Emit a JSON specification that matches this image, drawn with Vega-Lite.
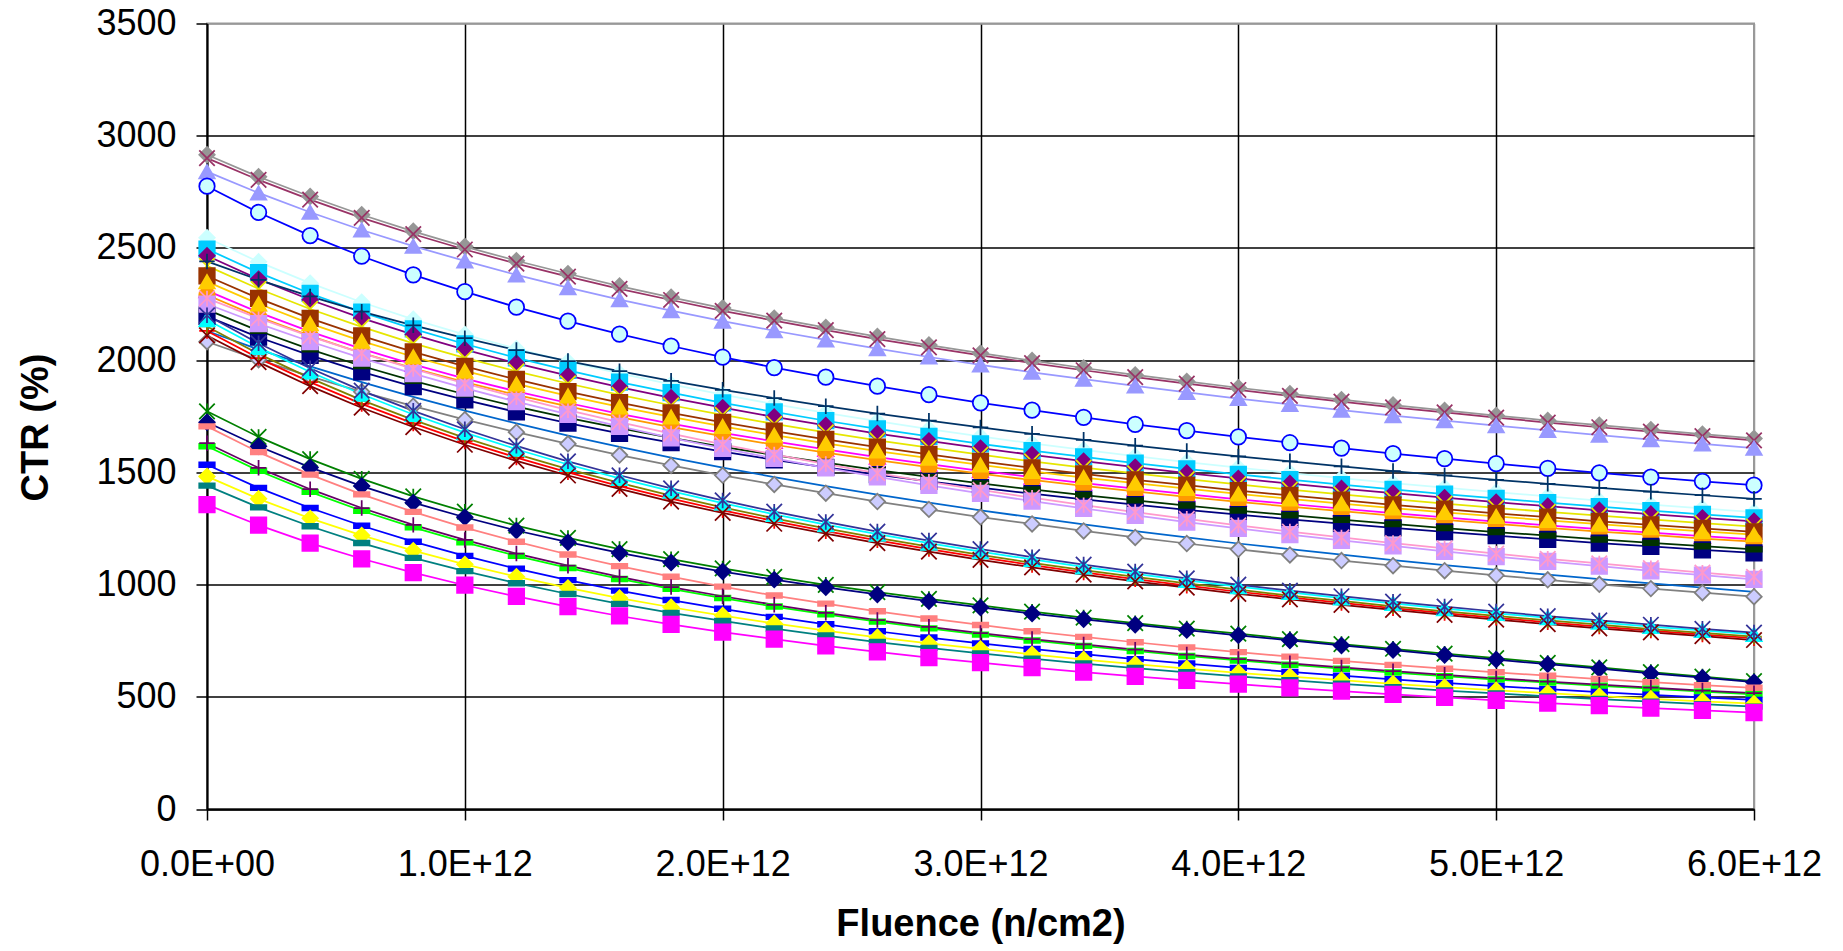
{
"$schema":"https://vega.github.io/schema/vega-lite/v6.json",
"width":1547,"height":785.5,
"autosize":{"type":"none"},
"padding":{"left":207,"top":23.5,"right":89,"bottom":142},
"background":"#ffffff",
"config":{"font":"Liberation Sans","view":{"stroke":"#999999","strokeWidth":2}},
"data":{"values":[
{"s":"S01","x":0,"y":2915},{"s":"S01","x":2e11,"y":2817},{"s":"S01","x":4e11,"y":2729},{"s":"S01","x":6e11,"y":2648},{"s":"S01","x":8e11,"y":2574},{"s":"S01","x":1e12,"y":2506},{"s":"S01","x":1.2e12,"y":2443},{"s":"S01","x":1.4e12,"y":2385},{"s":"S01","x":1.6e12,"y":2330},{"s":"S01","x":1.8e12,"y":2280},{"s":"S01","x":2e12,"y":2232},{"s":"S01","x":2.2e12,"y":2187},{"s":"S01","x":2.4e12,"y":2145},{"s":"S01","x":2.6e12,"y":2105},{"s":"S01","x":2.8e12,"y":2067},{"s":"S01","x":3e12,"y":2031},{"s":"S01","x":3.2e12,"y":1998},{"s":"S01","x":3.4e12,"y":1965},{"s":"S01","x":3.6e12,"y":1934},{"s":"S01","x":3.8e12,"y":1905},{"s":"S01","x":4e12,"y":1877},{"s":"S01","x":4.2e12,"y":1850},{"s":"S01","x":4.4e12,"y":1824},{"s":"S01","x":4.6e12,"y":1800},{"s":"S01","x":4.8e12,"y":1776},{"s":"S01","x":5e12,"y":1753},{"s":"S01","x":5.2e12,"y":1731},{"s":"S01","x":5.4e12,"y":1710},{"s":"S01","x":5.6e12,"y":1690},{"s":"S01","x":5.8e12,"y":1670},{"s":"S01","x":6e12,"y":1651},
{"s":"S02","x":0,"y":2900},{"s":"S02","x":2e11,"y":2803},{"s":"S02","x":4e11,"y":2715},{"s":"S02","x":6e11,"y":2634},{"s":"S02","x":8e11,"y":2561},{"s":"S02","x":1e12,"y":2493},{"s":"S02","x":1.2e12,"y":2430},{"s":"S02","x":1.4e12,"y":2372},{"s":"S02","x":1.6e12,"y":2318},{"s":"S02","x":1.8e12,"y":2268},{"s":"S02","x":2e12,"y":2220},{"s":"S02","x":2.2e12,"y":2176},{"s":"S02","x":2.4e12,"y":2134},{"s":"S02","x":2.6e12,"y":2094},{"s":"S02","x":2.8e12,"y":2057},{"s":"S02","x":3e12,"y":2021},{"s":"S02","x":3.2e12,"y":1987},{"s":"S02","x":3.4e12,"y":1955},{"s":"S02","x":3.6e12,"y":1924},{"s":"S02","x":3.8e12,"y":1895},{"s":"S02","x":4e12,"y":1867},{"s":"S02","x":4.2e12,"y":1841},{"s":"S02","x":4.4e12,"y":1815},{"s":"S02","x":4.6e12,"y":1790},{"s":"S02","x":4.8e12,"y":1767},{"s":"S02","x":5e12,"y":1744},{"s":"S02","x":5.2e12,"y":1722},{"s":"S02","x":5.4e12,"y":1701},{"s":"S02","x":5.6e12,"y":1681},{"s":"S02","x":5.8e12,"y":1661},{"s":"S02","x":6e12,"y":1642},
{"s":"S03","x":0,"y":2840},{"s":"S03","x":2e11,"y":2745},{"s":"S03","x":4e11,"y":2659},{"s":"S03","x":6e11,"y":2580},{"s":"S03","x":8e11,"y":2508},{"s":"S03","x":1e12,"y":2442},{"s":"S03","x":1.2e12,"y":2380},{"s":"S03","x":1.4e12,"y":2323},{"s":"S03","x":1.6e12,"y":2270},{"s":"S03","x":1.8e12,"y":2221},{"s":"S03","x":2e12,"y":2174},{"s":"S03","x":2.2e12,"y":2131},{"s":"S03","x":2.4e12,"y":2090},{"s":"S03","x":2.6e12,"y":2051},{"s":"S03","x":2.8e12,"y":2014},{"s":"S03","x":3e12,"y":1979},{"s":"S03","x":3.2e12,"y":1946},{"s":"S03","x":3.4e12,"y":1915},{"s":"S03","x":3.6e12,"y":1885},{"s":"S03","x":3.8e12,"y":1856},{"s":"S03","x":4e12,"y":1829},{"s":"S03","x":4.2e12,"y":1803},{"s":"S03","x":4.4e12,"y":1777},{"s":"S03","x":4.6e12,"y":1753},{"s":"S03","x":4.8e12,"y":1730},{"s":"S03","x":5e12,"y":1708},{"s":"S03","x":5.2e12,"y":1687},{"s":"S03","x":5.4e12,"y":1666},{"s":"S03","x":5.6e12,"y":1646},{"s":"S03","x":5.8e12,"y":1627},{"s":"S03","x":6e12,"y":1608},
{"s":"S04","x":0,"y":2775},{"s":"S04","x":2e11,"y":2658},{"s":"S04","x":4e11,"y":2555},{"s":"S04","x":6e11,"y":2463},{"s":"S04","x":8e11,"y":2380},{"s":"S04","x":1e12,"y":2305},{"s":"S04","x":1.2e12,"y":2236},{"s":"S04","x":1.4e12,"y":2174},{"s":"S04","x":1.6e12,"y":2116},{"s":"S04","x":1.8e12,"y":2063},{"s":"S04","x":2e12,"y":2013},{"s":"S04","x":2.2e12,"y":1967},{"s":"S04","x":2.4e12,"y":1924},{"s":"S04","x":2.6e12,"y":1884},{"s":"S04","x":2.8e12,"y":1846},{"s":"S04","x":3e12,"y":1810},{"s":"S04","x":3.2e12,"y":1777},{"s":"S04","x":3.4e12,"y":1745},{"s":"S04","x":3.6e12,"y":1714},{"s":"S04","x":3.8e12,"y":1686},{"s":"S04","x":4e12,"y":1658},{"s":"S04","x":4.2e12,"y":1632},{"s":"S04","x":4.4e12,"y":1608},{"s":"S04","x":4.6e12,"y":1584},{"s":"S04","x":4.8e12,"y":1561},{"s":"S04","x":5e12,"y":1539},{"s":"S04","x":5.2e12,"y":1518},{"s":"S04","x":5.4e12,"y":1498},{"s":"S04","x":5.6e12,"y":1479},{"s":"S04","x":5.8e12,"y":1460},{"s":"S04","x":6e12,"y":1443},
{"s":"S05","x":0,"y":2545},{"s":"S05","x":2e11,"y":2438},{"s":"S05","x":4e11,"y":2343},{"s":"S05","x":6e11,"y":2258},{"s":"S05","x":8e11,"y":2182},{"s":"S05","x":1e12,"y":2114},{"s":"S05","x":1.2e12,"y":2051},{"s":"S05","x":1.4e12,"y":1993},{"s":"S05","x":1.6e12,"y":1941},{"s":"S05","x":1.8e12,"y":1892},{"s":"S05","x":2e12,"y":1846},{"s":"S05","x":2.2e12,"y":1804},{"s":"S05","x":2.4e12,"y":1765},{"s":"S05","x":2.6e12,"y":1728},{"s":"S05","x":2.8e12,"y":1693},{"s":"S05","x":3e12,"y":1660},{"s":"S05","x":3.2e12,"y":1629},{"s":"S05","x":3.4e12,"y":1600},{"s":"S05","x":3.6e12,"y":1572},{"s":"S05","x":3.8e12,"y":1546},{"s":"S05","x":4e12,"y":1521},{"s":"S05","x":4.2e12,"y":1497},{"s":"S05","x":4.4e12,"y":1474},{"s":"S05","x":4.6e12,"y":1452},{"s":"S05","x":4.8e12,"y":1432},{"s":"S05","x":5e12,"y":1412},{"s":"S05","x":5.2e12,"y":1393},{"s":"S05","x":5.4e12,"y":1374},{"s":"S05","x":5.6e12,"y":1356},{"s":"S05","x":5.8e12,"y":1339},{"s":"S05","x":6e12,"y":1323},
{"s":"S06","x":0,"y":2495},{"s":"S06","x":2e11,"y":2390},{"s":"S06","x":4e11,"y":2297},{"s":"S06","x":6e11,"y":2214},{"s":"S06","x":8e11,"y":2139},{"s":"S06","x":1e12,"y":2072},{"s":"S06","x":1.2e12,"y":2010},{"s":"S06","x":1.4e12,"y":1954},{"s":"S06","x":1.6e12,"y":1902},{"s":"S06","x":1.8e12,"y":1855},{"s":"S06","x":2e12,"y":1810},{"s":"S06","x":2.2e12,"y":1769},{"s":"S06","x":2.4e12,"y":1730},{"s":"S06","x":2.6e12,"y":1694},{"s":"S06","x":2.8e12,"y":1660},{"s":"S06","x":3e12,"y":1627},{"s":"S06","x":3.2e12,"y":1597},{"s":"S06","x":3.4e12,"y":1569},{"s":"S06","x":3.6e12,"y":1541},{"s":"S06","x":3.8e12,"y":1516},{"s":"S06","x":4e12,"y":1491},{"s":"S06","x":4.2e12,"y":1468},{"s":"S06","x":4.4e12,"y":1445},{"s":"S06","x":4.6e12,"y":1424},{"s":"S06","x":4.8e12,"y":1403},{"s":"S06","x":5e12,"y":1384},{"s":"S06","x":5.2e12,"y":1365},{"s":"S06","x":5.4e12,"y":1347},{"s":"S06","x":5.6e12,"y":1330},{"s":"S06","x":5.8e12,"y":1313},{"s":"S06","x":6e12,"y":1297},
{"s":"S07","x":0,"y":2465},{"s":"S07","x":2e11,"y":2361},{"s":"S07","x":4e11,"y":2269},{"s":"S07","x":6e11,"y":2187},{"s":"S07","x":8e11,"y":2114},{"s":"S07","x":1e12,"y":2047},{"s":"S07","x":1.2e12,"y":1986},{"s":"S07","x":1.4e12,"y":1931},{"s":"S07","x":1.6e12,"y":1880},{"s":"S07","x":1.8e12,"y":1832},{"s":"S07","x":2e12,"y":1788},{"s":"S07","x":2.2e12,"y":1747},{"s":"S07","x":2.4e12,"y":1709},{"s":"S07","x":2.6e12,"y":1673},{"s":"S07","x":2.8e12,"y":1640},{"s":"S07","x":3e12,"y":1608},{"s":"S07","x":3.2e12,"y":1578},{"s":"S07","x":3.4e12,"y":1550},{"s":"S07","x":3.6e12,"y":1523},{"s":"S07","x":3.8e12,"y":1497},{"s":"S07","x":4e12,"y":1473},{"s":"S07","x":4.2e12,"y":1450},{"s":"S07","x":4.4e12,"y":1428},{"s":"S07","x":4.6e12,"y":1407},{"s":"S07","x":4.8e12,"y":1387},{"s":"S07","x":5e12,"y":1367},{"s":"S07","x":5.2e12,"y":1349},{"s":"S07","x":5.4e12,"y":1331},{"s":"S07","x":5.6e12,"y":1314},{"s":"S07","x":5.8e12,"y":1297},{"s":"S07","x":6e12,"y":1282},
{"s":"S08","x":0,"y":2420},{"s":"S08","x":2e11,"y":2318},{"s":"S08","x":4e11,"y":2228},{"s":"S08","x":6e11,"y":2148},{"s":"S08","x":8e11,"y":2075},{"s":"S08","x":1e12,"y":2010},{"s":"S08","x":1.2e12,"y":1950},{"s":"S08","x":1.4e12,"y":1896},{"s":"S08","x":1.6e12,"y":1845},{"s":"S08","x":1.8e12,"y":1799},{"s":"S08","x":2e12,"y":1756},{"s":"S08","x":2.2e12,"y":1716},{"s":"S08","x":2.4e12,"y":1678},{"s":"S08","x":2.6e12,"y":1643},{"s":"S08","x":2.8e12,"y":1610},{"s":"S08","x":3e12,"y":1579},{"s":"S08","x":3.2e12,"y":1549},{"s":"S08","x":3.4e12,"y":1521},{"s":"S08","x":3.6e12,"y":1495},{"s":"S08","x":3.8e12,"y":1470},{"s":"S08","x":4e12,"y":1446},{"s":"S08","x":4.2e12,"y":1423},{"s":"S08","x":4.4e12,"y":1402},{"s":"S08","x":4.6e12,"y":1381},{"s":"S08","x":4.8e12,"y":1361},{"s":"S08","x":5e12,"y":1342},{"s":"S08","x":5.2e12,"y":1324},{"s":"S08","x":5.4e12,"y":1307},{"s":"S08","x":5.6e12,"y":1290},{"s":"S08","x":5.8e12,"y":1274},{"s":"S08","x":6e12,"y":1258},
{"s":"S09","x":0,"y":2375},{"s":"S09","x":2e11,"y":2275},{"s":"S09","x":4e11,"y":2186},{"s":"S09","x":6e11,"y":2108},{"s":"S09","x":8e11,"y":2037},{"s":"S09","x":1e12,"y":1972},{"s":"S09","x":1.2e12,"y":1914},{"s":"S09","x":1.4e12,"y":1860},{"s":"S09","x":1.6e12,"y":1811},{"s":"S09","x":1.8e12,"y":1765},{"s":"S09","x":2e12,"y":1723},{"s":"S09","x":2.2e12,"y":1684},{"s":"S09","x":2.4e12,"y":1647},{"s":"S09","x":2.6e12,"y":1612},{"s":"S09","x":2.8e12,"y":1580},{"s":"S09","x":3e12,"y":1549},{"s":"S09","x":3.2e12,"y":1520},{"s":"S09","x":3.4e12,"y":1493},{"s":"S09","x":3.6e12,"y":1467},{"s":"S09","x":3.8e12,"y":1443},{"s":"S09","x":4e12,"y":1419},{"s":"S09","x":4.2e12,"y":1397},{"s":"S09","x":4.4e12,"y":1376},{"s":"S09","x":4.6e12,"y":1355},{"s":"S09","x":4.8e12,"y":1336},{"s":"S09","x":5e12,"y":1317},{"s":"S09","x":5.2e12,"y":1300},{"s":"S09","x":5.4e12,"y":1282},{"s":"S09","x":5.6e12,"y":1266},{"s":"S09","x":5.8e12,"y":1250},{"s":"S09","x":6e12,"y":1235},
{"s":"S10","x":0,"y":2440},{"s":"S10","x":2e11,"y":2358},{"s":"S10","x":4e11,"y":2284},{"s":"S10","x":6e11,"y":2216},{"s":"S10","x":8e11,"y":2155},{"s":"S10","x":1e12,"y":2098},{"s":"S10","x":1.2e12,"y":2045},{"s":"S10","x":1.4e12,"y":1996},{"s":"S10","x":1.6e12,"y":1951},{"s":"S10","x":1.8e12,"y":1908},{"s":"S10","x":2e12,"y":1868},{"s":"S10","x":2.2e12,"y":1831},{"s":"S10","x":2.4e12,"y":1795},{"s":"S10","x":2.6e12,"y":1762},{"s":"S10","x":2.8e12,"y":1730},{"s":"S10","x":3e12,"y":1700},{"s":"S10","x":3.2e12,"y":1672},{"s":"S10","x":3.4e12,"y":1645},{"s":"S10","x":3.6e12,"y":1619},{"s":"S10","x":3.8e12,"y":1595},{"s":"S10","x":4e12,"y":1571},{"s":"S10","x":4.2e12,"y":1549},{"s":"S10","x":4.4e12,"y":1527},{"s":"S10","x":4.6e12,"y":1506},{"s":"S10","x":4.8e12,"y":1486},{"s":"S10","x":5e12,"y":1467},{"s":"S10","x":5.2e12,"y":1449},{"s":"S10","x":5.4e12,"y":1431},{"s":"S10","x":5.6e12,"y":1414},{"s":"S10","x":5.8e12,"y":1398},{"s":"S10","x":6e12,"y":1382},
{"s":"S11","x":0,"y":2310},{"s":"S11","x":2e11,"y":2213},{"s":"S11","x":4e11,"y":2127},{"s":"S11","x":6e11,"y":2050},{"s":"S11","x":8e11,"y":1981},{"s":"S11","x":1e12,"y":1918},{"s":"S11","x":1.2e12,"y":1861},{"s":"S11","x":1.4e12,"y":1809},{"s":"S11","x":1.6e12,"y":1761},{"s":"S11","x":1.8e12,"y":1717},{"s":"S11","x":2e12,"y":1676},{"s":"S11","x":2.2e12,"y":1638},{"s":"S11","x":2.4e12,"y":1602},{"s":"S11","x":2.6e12,"y":1568},{"s":"S11","x":2.8e12,"y":1537},{"s":"S11","x":3e12,"y":1507},{"s":"S11","x":3.2e12,"y":1479},{"s":"S11","x":3.4e12,"y":1452},{"s":"S11","x":3.6e12,"y":1427},{"s":"S11","x":3.8e12,"y":1403},{"s":"S11","x":4e12,"y":1380},{"s":"S11","x":4.2e12,"y":1359},{"s":"S11","x":4.4e12,"y":1338},{"s":"S11","x":4.6e12,"y":1318},{"s":"S11","x":4.8e12,"y":1299},{"s":"S11","x":5e12,"y":1281},{"s":"S11","x":5.2e12,"y":1264},{"s":"S11","x":5.4e12,"y":1247},{"s":"S11","x":5.6e12,"y":1231},{"s":"S11","x":5.8e12,"y":1216},{"s":"S11","x":6e12,"y":1201},
{"s":"S12","x":0,"y":2290},{"s":"S12","x":2e11,"y":2193},{"s":"S12","x":4e11,"y":2108},{"s":"S12","x":6e11,"y":2032},{"s":"S12","x":8e11,"y":1964},{"s":"S12","x":1e12,"y":1902},{"s":"S12","x":1.2e12,"y":1845},{"s":"S12","x":1.4e12,"y":1794},{"s":"S12","x":1.6e12,"y":1746},{"s":"S12","x":1.8e12,"y":1702},{"s":"S12","x":2e12,"y":1661},{"s":"S12","x":2.2e12,"y":1623},{"s":"S12","x":2.4e12,"y":1588},{"s":"S12","x":2.6e12,"y":1554},{"s":"S12","x":2.8e12,"y":1523},{"s":"S12","x":3e12,"y":1494},{"s":"S12","x":3.2e12,"y":1466},{"s":"S12","x":3.4e12,"y":1440},{"s":"S12","x":3.6e12,"y":1415},{"s":"S12","x":3.8e12,"y":1391},{"s":"S12","x":4e12,"y":1369},{"s":"S12","x":4.2e12,"y":1347},{"s":"S12","x":4.4e12,"y":1327},{"s":"S12","x":4.6e12,"y":1307},{"s":"S12","x":4.8e12,"y":1288},{"s":"S12","x":5e12,"y":1270},{"s":"S12","x":5.2e12,"y":1253},{"s":"S12","x":5.4e12,"y":1236},{"s":"S12","x":5.6e12,"y":1221},{"s":"S12","x":5.8e12,"y":1205},{"s":"S12","x":6e12,"y":1191},
{"s":"S13","x":0,"y":2195},{"s":"S13","x":2e11,"y":2102},{"s":"S13","x":4e11,"y":2021},{"s":"S13","x":6e11,"y":1948},{"s":"S13","x":8e11,"y":1882},{"s":"S13","x":1e12,"y":1823},{"s":"S13","x":1.2e12,"y":1769},{"s":"S13","x":1.4e12,"y":1719},{"s":"S13","x":1.6e12,"y":1674},{"s":"S13","x":1.8e12,"y":1632},{"s":"S13","x":2e12,"y":1592},{"s":"S13","x":2.2e12,"y":1556},{"s":"S13","x":2.4e12,"y":1522},{"s":"S13","x":2.6e12,"y":1490},{"s":"S13","x":2.8e12,"y":1460},{"s":"S13","x":3e12,"y":1432},{"s":"S13","x":3.2e12,"y":1405},{"s":"S13","x":3.4e12,"y":1380},{"s":"S13","x":3.6e12,"y":1356},{"s":"S13","x":3.8e12,"y":1333},{"s":"S13","x":4e12,"y":1312},{"s":"S13","x":4.2e12,"y":1291},{"s":"S13","x":4.4e12,"y":1272},{"s":"S13","x":4.6e12,"y":1253},{"s":"S13","x":4.8e12,"y":1235},{"s":"S13","x":5e12,"y":1218},{"s":"S13","x":5.2e12,"y":1201},{"s":"S13","x":5.4e12,"y":1185},{"s":"S13","x":5.6e12,"y":1170},{"s":"S13","x":5.8e12,"y":1155},{"s":"S13","x":6e12,"y":1141},
{"s":"S14","x":0,"y":2225},{"s":"S14","x":2e11,"y":2131},{"s":"S14","x":4e11,"y":2048},{"s":"S14","x":6e11,"y":1974},{"s":"S14","x":8e11,"y":1908},{"s":"S14","x":1e12,"y":1848},{"s":"S14","x":1.2e12,"y":1793},{"s":"S14","x":1.4e12,"y":1743},{"s":"S14","x":1.6e12,"y":1697},{"s":"S14","x":1.8e12,"y":1654},{"s":"S14","x":2e12,"y":1614},{"s":"S14","x":2.2e12,"y":1577},{"s":"S14","x":2.4e12,"y":1543},{"s":"S14","x":2.6e12,"y":1510},{"s":"S14","x":2.8e12,"y":1480},{"s":"S14","x":3e12,"y":1451},{"s":"S14","x":3.2e12,"y":1424},{"s":"S14","x":3.4e12,"y":1399},{"s":"S14","x":3.6e12,"y":1375},{"s":"S14","x":3.8e12,"y":1352},{"s":"S14","x":4e12,"y":1330},{"s":"S14","x":4.2e12,"y":1309},{"s":"S14","x":4.4e12,"y":1289},{"s":"S14","x":4.6e12,"y":1270},{"s":"S14","x":4.8e12,"y":1252},{"s":"S14","x":5e12,"y":1234},{"s":"S14","x":5.2e12,"y":1218},{"s":"S14","x":5.4e12,"y":1201},{"s":"S14","x":5.6e12,"y":1186},{"s":"S14","x":5.8e12,"y":1171},{"s":"S14","x":6e12,"y":1157},
{"s":"S15","x":0,"y":2250},{"s":"S15","x":2e11,"y":2163},{"s":"S15","x":4e11,"y":2083},{"s":"S15","x":6e11,"y":2009},{"s":"S15","x":8e11,"y":1940},{"s":"S15","x":1e12,"y":1875},{"s":"S15","x":1.2e12,"y":1815},{"s":"S15","x":1.4e12,"y":1758},{"s":"S15","x":1.6e12,"y":1705},{"s":"S15","x":1.8e12,"y":1654},{"s":"S15","x":2e12,"y":1607},{"s":"S15","x":2.2e12,"y":1562},{"s":"S15","x":2.4e12,"y":1520},{"s":"S15","x":2.6e12,"y":1480},{"s":"S15","x":2.8e12,"y":1442},{"s":"S15","x":3e12,"y":1406},{"s":"S15","x":3.2e12,"y":1372},{"s":"S15","x":3.4e12,"y":1339},{"s":"S15","x":3.6e12,"y":1308},{"s":"S15","x":3.8e12,"y":1278},{"s":"S15","x":4e12,"y":1250},{"s":"S15","x":4.2e12,"y":1223},{"s":"S15","x":4.4e12,"y":1197},{"s":"S15","x":4.6e12,"y":1172},{"s":"S15","x":4.8e12,"y":1148},{"s":"S15","x":5e12,"y":1125},{"s":"S15","x":5.2e12,"y":1103},{"s":"S15","x":5.4e12,"y":1082},{"s":"S15","x":5.6e12,"y":1061},{"s":"S15","x":5.8e12,"y":1042},{"s":"S15","x":6e12,"y":1023},
{"s":"S16","x":0,"y":2275},{"s":"S16","x":2e11,"y":2187},{"s":"S16","x":4e11,"y":2106},{"s":"S16","x":6e11,"y":2031},{"s":"S16","x":8e11,"y":1961},{"s":"S16","x":1e12,"y":1896},{"s":"S16","x":1.2e12,"y":1835},{"s":"S16","x":1.4e12,"y":1777},{"s":"S16","x":1.6e12,"y":1724},{"s":"S16","x":1.8e12,"y":1673},{"s":"S16","x":2e12,"y":1625},{"s":"S16","x":2.2e12,"y":1580},{"s":"S16","x":2.4e12,"y":1537},{"s":"S16","x":2.6e12,"y":1497},{"s":"S16","x":2.8e12,"y":1458},{"s":"S16","x":3e12,"y":1422},{"s":"S16","x":3.2e12,"y":1387},{"s":"S16","x":3.4e12,"y":1354},{"s":"S16","x":3.6e12,"y":1323},{"s":"S16","x":3.8e12,"y":1293},{"s":"S16","x":4e12,"y":1264},{"s":"S16","x":4.2e12,"y":1236},{"s":"S16","x":4.4e12,"y":1210},{"s":"S16","x":4.6e12,"y":1185},{"s":"S16","x":4.8e12,"y":1161},{"s":"S16","x":5e12,"y":1138},{"s":"S16","x":5.2e12,"y":1115},{"s":"S16","x":5.4e12,"y":1094},{"s":"S16","x":5.6e12,"y":1073},{"s":"S16","x":5.8e12,"y":1053},{"s":"S16","x":6e12,"y":1034},
{"s":"S17","x":0,"y":2350},{"s":"S17","x":2e11,"y":2251},{"s":"S17","x":4e11,"y":2163},{"s":"S17","x":6e11,"y":2085},{"s":"S17","x":8e11,"y":2015},{"s":"S17","x":1e12,"y":1952},{"s":"S17","x":1.2e12,"y":1894},{"s":"S17","x":1.4e12,"y":1841},{"s":"S17","x":1.6e12,"y":1792},{"s":"S17","x":1.8e12,"y":1747},{"s":"S17","x":2e12,"y":1705},{"s":"S17","x":2.2e12,"y":1666},{"s":"S17","x":2.4e12,"y":1629},{"s":"S17","x":2.6e12,"y":1595},{"s":"S17","x":2.8e12,"y":1563},{"s":"S17","x":3e12,"y":1533},{"s":"S17","x":3.2e12,"y":1504},{"s":"S17","x":3.4e12,"y":1477},{"s":"S17","x":3.6e12,"y":1452},{"s":"S17","x":3.8e12,"y":1428},{"s":"S17","x":4e12,"y":1404},{"s":"S17","x":4.2e12,"y":1382},{"s":"S17","x":4.4e12,"y":1361},{"s":"S17","x":4.6e12,"y":1341},{"s":"S17","x":4.8e12,"y":1322},{"s":"S17","x":5e12,"y":1304},{"s":"S17","x":5.2e12,"y":1286},{"s":"S17","x":5.4e12,"y":1269},{"s":"S17","x":5.6e12,"y":1253},{"s":"S17","x":5.8e12,"y":1237},{"s":"S17","x":6e12,"y":1222},
{"s":"S20","x":0,"y":2130},{"s":"S20","x":2e11,"y":2048},{"s":"S20","x":4e11,"y":1972},{"s":"S20","x":6e11,"y":1902},{"s":"S20","x":8e11,"y":1836},{"s":"S20","x":1e12,"y":1775},{"s":"S20","x":1.2e12,"y":1718},{"s":"S20","x":1.4e12,"y":1664},{"s":"S20","x":1.6e12,"y":1614},{"s":"S20","x":1.8e12,"y":1566},{"s":"S20","x":2e12,"y":1521},{"s":"S20","x":2.2e12,"y":1479},{"s":"S20","x":2.4e12,"y":1439},{"s":"S20","x":2.6e12,"y":1401},{"s":"S20","x":2.8e12,"y":1365},{"s":"S20","x":3e12,"y":1331},{"s":"S20","x":3.2e12,"y":1299},{"s":"S20","x":3.4e12,"y":1268},{"s":"S20","x":3.6e12,"y":1238},{"s":"S20","x":3.8e12,"y":1210},{"s":"S20","x":4e12,"y":1183},{"s":"S20","x":4.2e12,"y":1158},{"s":"S20","x":4.4e12,"y":1133},{"s":"S20","x":4.6e12,"y":1109},{"s":"S20","x":4.8e12,"y":1087},{"s":"S20","x":5e12,"y":1065},{"s":"S20","x":5.2e12,"y":1044},{"s":"S20","x":5.4e12,"y":1024},{"s":"S20","x":5.6e12,"y":1005},{"s":"S20","x":5.8e12,"y":986},{"s":"S20","x":6e12,"y":968},
{"s":"S21","x":0,"y":2082},{"s":"S21","x":2e11,"y":2002},{"s":"S21","x":4e11,"y":1928},{"s":"S21","x":6e11,"y":1859},{"s":"S21","x":8e11,"y":1795},{"s":"S21","x":1e12,"y":1735},{"s":"S21","x":1.2e12,"y":1679},{"s":"S21","x":1.4e12,"y":1627},{"s":"S21","x":1.6e12,"y":1577},{"s":"S21","x":1.8e12,"y":1531},{"s":"S21","x":2e12,"y":1487},{"s":"S21","x":2.2e12,"y":1446},{"s":"S21","x":2.4e12,"y":1407},{"s":"S21","x":2.6e12,"y":1370},{"s":"S21","x":2.8e12,"y":1335},{"s":"S21","x":3e12,"y":1301},{"s":"S21","x":3.2e12,"y":1270},{"s":"S21","x":3.4e12,"y":1239},{"s":"S21","x":3.6e12,"y":1210},{"s":"S21","x":3.8e12,"y":1183},{"s":"S21","x":4e12,"y":1157},{"s":"S21","x":4.2e12,"y":1132},{"s":"S21","x":4.4e12,"y":1107},{"s":"S21","x":4.6e12,"y":1084},{"s":"S21","x":4.8e12,"y":1062},{"s":"S21","x":5e12,"y":1041},{"s":"S21","x":5.2e12,"y":1021},{"s":"S21","x":5.4e12,"y":1001},{"s":"S21","x":5.6e12,"y":982},{"s":"S21","x":5.8e12,"y":964},{"s":"S21","x":6e12,"y":946},
{"s":"S22","x":0,"y":2130},{"s":"S22","x":2e11,"y":2009},{"s":"S22","x":4e11,"y":1902},{"s":"S22","x":6e11,"y":1805},{"s":"S22","x":8e11,"y":1718},{"s":"S22","x":1e12,"y":1638},{"s":"S22","x":1.2e12,"y":1566},{"s":"S22","x":1.4e12,"y":1500},{"s":"S22","x":1.6e12,"y":1439},{"s":"S22","x":1.8e12,"y":1383},{"s":"S22","x":2e12,"y":1331},{"s":"S22","x":2.2e12,"y":1283},{"s":"S22","x":2.4e12,"y":1238},{"s":"S22","x":2.6e12,"y":1197},{"s":"S22","x":2.8e12,"y":1158},{"s":"S22","x":3e12,"y":1121},{"s":"S22","x":3.2e12,"y":1087},{"s":"S22","x":3.4e12,"y":1054},{"s":"S22","x":3.6e12,"y":1024},{"s":"S22","x":3.8e12,"y":995},{"s":"S22","x":4e12,"y":968},{"s":"S22","x":4.2e12,"y":943},{"s":"S22","x":4.4e12,"y":918},{"s":"S22","x":4.6e12,"y":895},{"s":"S22","x":4.8e12,"y":873},{"s":"S22","x":5e12,"y":852},{"s":"S22","x":5.2e12,"y":832},{"s":"S22","x":5.4e12,"y":813},{"s":"S22","x":5.6e12,"y":795},{"s":"S22","x":5.8e12,"y":777},{"s":"S22","x":6e12,"y":761},
{"s":"S23","x":0,"y":2150},{"s":"S23","x":2e11,"y":2028},{"s":"S23","x":4e11,"y":1920},{"s":"S23","x":6e11,"y":1822},{"s":"S23","x":8e11,"y":1734},{"s":"S23","x":1e12,"y":1654},{"s":"S23","x":1.2e12,"y":1581},{"s":"S23","x":1.4e12,"y":1514},{"s":"S23","x":1.6e12,"y":1453},{"s":"S23","x":1.8e12,"y":1396},{"s":"S23","x":2e12,"y":1344},{"s":"S23","x":2.2e12,"y":1295},{"s":"S23","x":2.4e12,"y":1250},{"s":"S23","x":2.6e12,"y":1208},{"s":"S23","x":2.8e12,"y":1169},{"s":"S23","x":3e12,"y":1132},{"s":"S23","x":3.2e12,"y":1097},{"s":"S23","x":3.4e12,"y":1064},{"s":"S23","x":3.6e12,"y":1034},{"s":"S23","x":3.8e12,"y":1005},{"s":"S23","x":4e12,"y":977},{"s":"S23","x":4.2e12,"y":951},{"s":"S23","x":4.4e12,"y":927},{"s":"S23","x":4.6e12,"y":903},{"s":"S23","x":4.8e12,"y":881},{"s":"S23","x":5e12,"y":860},{"s":"S23","x":5.2e12,"y":840},{"s":"S23","x":5.4e12,"y":821},{"s":"S23","x":5.6e12,"y":802},{"s":"S23","x":5.8e12,"y":785},{"s":"S23","x":6e12,"y":768},
{"s":"S24","x":0,"y":2180},{"s":"S24","x":2e11,"y":2057},{"s":"S24","x":4e11,"y":1947},{"s":"S24","x":6e11,"y":1848},{"s":"S24","x":8e11,"y":1758},{"s":"S24","x":1e12,"y":1677},{"s":"S24","x":1.2e12,"y":1603},{"s":"S24","x":1.4e12,"y":1535},{"s":"S24","x":1.6e12,"y":1473},{"s":"S24","x":1.8e12,"y":1416},{"s":"S24","x":2e12,"y":1363},{"s":"S24","x":2.2e12,"y":1313},{"s":"S24","x":2.4e12,"y":1267},{"s":"S24","x":2.6e12,"y":1225},{"s":"S24","x":2.8e12,"y":1185},{"s":"S24","x":3e12,"y":1147},{"s":"S24","x":3.2e12,"y":1112},{"s":"S24","x":3.4e12,"y":1079},{"s":"S24","x":3.6e12,"y":1048},{"s":"S24","x":3.8e12,"y":1019},{"s":"S24","x":4e12,"y":991},{"s":"S24","x":4.2e12,"y":965},{"s":"S24","x":4.4e12,"y":940},{"s":"S24","x":4.6e12,"y":916},{"s":"S24","x":4.8e12,"y":893},{"s":"S24","x":5e12,"y":872},{"s":"S24","x":5.2e12,"y":852},{"s":"S24","x":5.4e12,"y":832},{"s":"S24","x":5.6e12,"y":813},{"s":"S24","x":5.8e12,"y":796},{"s":"S24","x":6e12,"y":778},
{"s":"S25","x":0,"y":2110},{"s":"S25","x":2e11,"y":1991},{"s":"S25","x":4e11,"y":1884},{"s":"S25","x":6e11,"y":1788},{"s":"S25","x":8e11,"y":1702},{"s":"S25","x":1e12,"y":1623},{"s":"S25","x":1.2e12,"y":1551},{"s":"S25","x":1.4e12,"y":1486},{"s":"S25","x":1.6e12,"y":1426},{"s":"S25","x":1.8e12,"y":1370},{"s":"S25","x":2e12,"y":1319},{"s":"S25","x":2.2e12,"y":1271},{"s":"S25","x":2.4e12,"y":1227},{"s":"S25","x":2.6e12,"y":1185},{"s":"S25","x":2.8e12,"y":1147},{"s":"S25","x":3e12,"y":1110},{"s":"S25","x":3.2e12,"y":1077},{"s":"S25","x":3.4e12,"y":1044},{"s":"S25","x":3.6e12,"y":1014},{"s":"S25","x":3.8e12,"y":986},{"s":"S25","x":4e12,"y":959},{"s":"S25","x":4.2e12,"y":934},{"s":"S25","x":4.4e12,"y":909},{"s":"S25","x":4.6e12,"y":887},{"s":"S25","x":4.8e12,"y":865},{"s":"S25","x":5e12,"y":844},{"s":"S25","x":5.2e12,"y":824},{"s":"S25","x":5.4e12,"y":805},{"s":"S25","x":5.6e12,"y":787},{"s":"S25","x":5.8e12,"y":770},{"s":"S25","x":6e12,"y":753},
{"s":"S26","x":0,"y":2200},{"s":"S26","x":2e11,"y":2075},{"s":"S26","x":4e11,"y":1964},{"s":"S26","x":6e11,"y":1864},{"s":"S26","x":8e11,"y":1774},{"s":"S26","x":1e12,"y":1692},{"s":"S26","x":1.2e12,"y":1618},{"s":"S26","x":1.4e12,"y":1549},{"s":"S26","x":1.6e12,"y":1487},{"s":"S26","x":1.8e12,"y":1429},{"s":"S26","x":2e12,"y":1375},{"s":"S26","x":2.2e12,"y":1325},{"s":"S26","x":2.4e12,"y":1279},{"s":"S26","x":2.6e12,"y":1236},{"s":"S26","x":2.8e12,"y":1196},{"s":"S26","x":3e12,"y":1158},{"s":"S26","x":3.2e12,"y":1122},{"s":"S26","x":3.4e12,"y":1089},{"s":"S26","x":3.6e12,"y":1058},{"s":"S26","x":3.8e12,"y":1028},{"s":"S26","x":4e12,"y":1000},{"s":"S26","x":4.2e12,"y":973},{"s":"S26","x":4.4e12,"y":948},{"s":"S26","x":4.6e12,"y":924},{"s":"S26","x":4.8e12,"y":902},{"s":"S26","x":5e12,"y":880},{"s":"S26","x":5.2e12,"y":859},{"s":"S26","x":5.4e12,"y":840},{"s":"S26","x":5.6e12,"y":821},{"s":"S26","x":5.8e12,"y":803},{"s":"S26","x":6e12,"y":786},
{"s":"S27","x":0,"y":1772},{"s":"S27","x":2e11,"y":1658},{"s":"S27","x":4e11,"y":1559},{"s":"S27","x":6e11,"y":1471},{"s":"S27","x":8e11,"y":1393},{"s":"S27","x":1e12,"y":1325},{"s":"S27","x":1.2e12,"y":1263},{"s":"S27","x":1.4e12,"y":1208},{"s":"S27","x":1.6e12,"y":1158},{"s":"S27","x":1.8e12,"y":1113},{"s":"S27","x":2e12,"y":1072},{"s":"S27","x":2.2e12,"y":1034},{"s":"S27","x":2.4e12,"y":999},{"s":"S27","x":2.6e12,"y":966},{"s":"S27","x":2.8e12,"y":936},{"s":"S27","x":3e12,"y":907},{"s":"S27","x":3.2e12,"y":879},{"s":"S27","x":3.4e12,"y":853},{"s":"S27","x":3.6e12,"y":828},{"s":"S27","x":3.8e12,"y":804},{"s":"S27","x":4e12,"y":781},{"s":"S27","x":4.2e12,"y":757},{"s":"S27","x":4.4e12,"y":735},{"s":"S27","x":4.6e12,"y":714},{"s":"S27","x":4.8e12,"y":692},{"s":"S27","x":5e12,"y":672},{"s":"S27","x":5.2e12,"y":651},{"s":"S27","x":5.4e12,"y":631},{"s":"S27","x":5.6e12,"y":610},{"s":"S27","x":5.8e12,"y":590},{"s":"S27","x":6e12,"y":570},
{"s":"S28","x":0,"y":1723},{"s":"S28","x":2e11,"y":1616},{"s":"S28","x":4e11,"y":1522},{"s":"S28","x":6e11,"y":1439},{"s":"S28","x":8e11,"y":1365},{"s":"S28","x":1e12,"y":1300},{"s":"S28","x":1.2e12,"y":1241},{"s":"S28","x":1.4e12,"y":1189},{"s":"S28","x":1.6e12,"y":1141},{"s":"S28","x":1.8e12,"y":1098},{"s":"S28","x":2e12,"y":1058},{"s":"S28","x":2.2e12,"y":1022},{"s":"S28","x":2.4e12,"y":988},{"s":"S28","x":2.6e12,"y":956},{"s":"S28","x":2.8e12,"y":926},{"s":"S28","x":3e12,"y":898},{"s":"S28","x":3.2e12,"y":871},{"s":"S28","x":3.4e12,"y":845},{"s":"S28","x":3.6e12,"y":821},{"s":"S28","x":3.8e12,"y":797},{"s":"S28","x":4e12,"y":774},{"s":"S28","x":4.2e12,"y":751},{"s":"S28","x":4.4e12,"y":729},{"s":"S28","x":4.6e12,"y":708},{"s":"S28","x":4.8e12,"y":686},{"s":"S28","x":5e12,"y":666},{"s":"S28","x":5.2e12,"y":645},{"s":"S28","x":5.4e12,"y":625},{"s":"S28","x":5.6e12,"y":604},{"s":"S28","x":5.8e12,"y":585},{"s":"S28","x":6e12,"y":565},
{"s":"S29","x":0,"y":1705},{"s":"S29","x":2e11,"y":1590},{"s":"S29","x":4e11,"y":1490},{"s":"S29","x":6e11,"y":1402},{"s":"S29","x":8e11,"y":1324},{"s":"S29","x":1e12,"y":1254},{"s":"S29","x":1.2e12,"y":1191},{"s":"S29","x":1.4e12,"y":1134},{"s":"S29","x":1.6e12,"y":1082},{"s":"S29","x":1.8e12,"y":1035},{"s":"S29","x":2e12,"y":991},{"s":"S29","x":2.2e12,"y":951},{"s":"S29","x":2.4e12,"y":915},{"s":"S29","x":2.6e12,"y":881},{"s":"S29","x":2.8e12,"y":849},{"s":"S29","x":3e12,"y":820},{"s":"S29","x":3.2e12,"y":792},{"s":"S29","x":3.4e12,"y":767},{"s":"S29","x":3.6e12,"y":743},{"s":"S29","x":3.8e12,"y":720},{"s":"S29","x":4e12,"y":699},{"s":"S29","x":4.2e12,"y":679},{"s":"S29","x":4.4e12,"y":660},{"s":"S29","x":4.6e12,"y":642},{"s":"S29","x":4.8e12,"y":625},{"s":"S29","x":5e12,"y":609},{"s":"S29","x":5.2e12,"y":594},{"s":"S29","x":5.4e12,"y":579},{"s":"S29","x":5.6e12,"y":565},{"s":"S29","x":5.8e12,"y":552},{"s":"S29","x":6e12,"y":540},
{"s":"S30","x":0,"y":1616},{"s":"S30","x":2e11,"y":1507},{"s":"S30","x":4e11,"y":1413},{"s":"S30","x":6e11,"y":1329},{"s":"S30","x":8e11,"y":1255},{"s":"S30","x":1e12,"y":1188},{"s":"S30","x":1.2e12,"y":1128},{"s":"S30","x":1.4e12,"y":1074},{"s":"S30","x":1.6e12,"y":1025},{"s":"S30","x":1.8e12,"y":981},{"s":"S30","x":2e12,"y":940},{"s":"S30","x":2.2e12,"y":902},{"s":"S30","x":2.4e12,"y":867},{"s":"S30","x":2.6e12,"y":835},{"s":"S30","x":2.8e12,"y":805},{"s":"S30","x":3e12,"y":777},{"s":"S30","x":3.2e12,"y":751},{"s":"S30","x":3.4e12,"y":727},{"s":"S30","x":3.6e12,"y":704},{"s":"S30","x":3.8e12,"y":682},{"s":"S30","x":4e12,"y":662},{"s":"S30","x":4.2e12,"y":643},{"s":"S30","x":4.4e12,"y":625},{"s":"S30","x":4.6e12,"y":608},{"s":"S30","x":4.8e12,"y":592},{"s":"S30","x":5e12,"y":577},{"s":"S30","x":5.2e12,"y":563},{"s":"S30","x":5.4e12,"y":549},{"s":"S30","x":5.6e12,"y":536},{"s":"S30","x":5.8e12,"y":523},{"s":"S30","x":6e12,"y":511},
{"s":"S31","x":0,"y":1630},{"s":"S31","x":2e11,"y":1520},{"s":"S31","x":4e11,"y":1425},{"s":"S31","x":6e11,"y":1341},{"s":"S31","x":8e11,"y":1266},{"s":"S31","x":1e12,"y":1199},{"s":"S31","x":1.2e12,"y":1138},{"s":"S31","x":1.4e12,"y":1084},{"s":"S31","x":1.6e12,"y":1034},{"s":"S31","x":1.8e12,"y":989},{"s":"S31","x":2e12,"y":948},{"s":"S31","x":2.2e12,"y":910},{"s":"S31","x":2.4e12,"y":874},{"s":"S31","x":2.6e12,"y":842},{"s":"S31","x":2.8e12,"y":812},{"s":"S31","x":3e12,"y":784},{"s":"S31","x":3.2e12,"y":757},{"s":"S31","x":3.4e12,"y":733},{"s":"S31","x":3.6e12,"y":710},{"s":"S31","x":3.8e12,"y":688},{"s":"S31","x":4e12,"y":668},{"s":"S31","x":4.2e12,"y":649},{"s":"S31","x":4.4e12,"y":631},{"s":"S31","x":4.6e12,"y":614},{"s":"S31","x":4.8e12,"y":598},{"s":"S31","x":5e12,"y":582},{"s":"S31","x":5.2e12,"y":568},{"s":"S31","x":5.4e12,"y":554},{"s":"S31","x":5.6e12,"y":541},{"s":"S31","x":5.8e12,"y":528},{"s":"S31","x":6e12,"y":516},
{"s":"S32","x":0,"y":1534},{"s":"S32","x":2e11,"y":1431},{"s":"S32","x":4e11,"y":1341},{"s":"S32","x":6e11,"y":1262},{"s":"S32","x":8e11,"y":1191},{"s":"S32","x":1e12,"y":1128},{"s":"S32","x":1.2e12,"y":1071},{"s":"S32","x":1.4e12,"y":1020},{"s":"S32","x":1.6e12,"y":973},{"s":"S32","x":1.8e12,"y":931},{"s":"S32","x":2e12,"y":892},{"s":"S32","x":2.2e12,"y":856},{"s":"S32","x":2.4e12,"y":823},{"s":"S32","x":2.6e12,"y":792},{"s":"S32","x":2.8e12,"y":764},{"s":"S32","x":3e12,"y":738},{"s":"S32","x":3.2e12,"y":713},{"s":"S32","x":3.4e12,"y":690},{"s":"S32","x":3.6e12,"y":668},{"s":"S32","x":3.8e12,"y":648},{"s":"S32","x":4e12,"y":629},{"s":"S32","x":4.2e12,"y":611},{"s":"S32","x":4.4e12,"y":594},{"s":"S32","x":4.6e12,"y":578},{"s":"S32","x":4.8e12,"y":562},{"s":"S32","x":5e12,"y":548},{"s":"S32","x":5.2e12,"y":534},{"s":"S32","x":5.4e12,"y":521},{"s":"S32","x":5.6e12,"y":509},{"s":"S32","x":5.8e12,"y":497},{"s":"S32","x":6e12,"y":486},
{"s":"S33","x":0,"y":1482},{"s":"S33","x":2e11,"y":1382},{"s":"S33","x":4e11,"y":1295},{"s":"S33","x":6e11,"y":1219},{"s":"S33","x":8e11,"y":1151},{"s":"S33","x":1e12,"y":1090},{"s":"S33","x":1.2e12,"y":1035},{"s":"S33","x":1.4e12,"y":985},{"s":"S33","x":1.6e12,"y":940},{"s":"S33","x":1.8e12,"y":899},{"s":"S33","x":2e12,"y":862},{"s":"S33","x":2.2e12,"y":827},{"s":"S33","x":2.4e12,"y":795},{"s":"S33","x":2.6e12,"y":765},{"s":"S33","x":2.8e12,"y":738},{"s":"S33","x":3e12,"y":713},{"s":"S33","x":3.2e12,"y":689},{"s":"S33","x":3.4e12,"y":666},{"s":"S33","x":3.6e12,"y":645},{"s":"S33","x":3.8e12,"y":626},{"s":"S33","x":4e12,"y":607},{"s":"S33","x":4.2e12,"y":590},{"s":"S33","x":4.4e12,"y":574},{"s":"S33","x":4.6e12,"y":558},{"s":"S33","x":4.8e12,"y":543},{"s":"S33","x":5e12,"y":529},{"s":"S33","x":5.2e12,"y":516},{"s":"S33","x":5.4e12,"y":503},{"s":"S33","x":5.6e12,"y":491},{"s":"S33","x":5.8e12,"y":480},{"s":"S33","x":6e12,"y":469},
{"s":"S34","x":0,"y":1441},{"s":"S34","x":2e11,"y":1344},{"s":"S34","x":4e11,"y":1260},{"s":"S34","x":6e11,"y":1185},{"s":"S34","x":8e11,"y":1119},{"s":"S34","x":1e12,"y":1060},{"s":"S34","x":1.2e12,"y":1006},{"s":"S34","x":1.4e12,"y":958},{"s":"S34","x":1.6e12,"y":914},{"s":"S34","x":1.8e12,"y":874},{"s":"S34","x":2e12,"y":838},{"s":"S34","x":2.2e12,"y":804},{"s":"S34","x":2.4e12,"y":773},{"s":"S34","x":2.6e12,"y":744},{"s":"S34","x":2.8e12,"y":718},{"s":"S34","x":3e12,"y":693},{"s":"S34","x":3.2e12,"y":670},{"s":"S34","x":3.4e12,"y":648},{"s":"S34","x":3.6e12,"y":628},{"s":"S34","x":3.8e12,"y":609},{"s":"S34","x":4e12,"y":591},{"s":"S34","x":4.2e12,"y":574},{"s":"S34","x":4.4e12,"y":558},{"s":"S34","x":4.6e12,"y":543},{"s":"S34","x":4.8e12,"y":528},{"s":"S34","x":5e12,"y":515},{"s":"S34","x":5.2e12,"y":502},{"s":"S34","x":5.4e12,"y":490},{"s":"S34","x":5.6e12,"y":478},{"s":"S34","x":5.8e12,"y":467},{"s":"S34","x":6e12,"y":456},
{"s":"S35","x":0,"y":1356},{"s":"S35","x":2e11,"y":1265},{"s":"S35","x":4e11,"y":1185},{"s":"S35","x":6e11,"y":1115},{"s":"S35","x":8e11,"y":1053},{"s":"S35","x":1e12,"y":997},{"s":"S35","x":1.2e12,"y":947},{"s":"S35","x":1.4e12,"y":902},{"s":"S35","x":1.6e12,"y":860},{"s":"S35","x":1.8e12,"y":823},{"s":"S35","x":2e12,"y":788},{"s":"S35","x":2.2e12,"y":757},{"s":"S35","x":2.4e12,"y":727},{"s":"S35","x":2.6e12,"y":700},{"s":"S35","x":2.8e12,"y":675},{"s":"S35","x":3e12,"y":652},{"s":"S35","x":3.2e12,"y":630},{"s":"S35","x":3.4e12,"y":610},{"s":"S35","x":3.6e12,"y":591},{"s":"S35","x":3.8e12,"y":573},{"s":"S35","x":4e12,"y":556},{"s":"S35","x":4.2e12,"y":540},{"s":"S35","x":4.4e12,"y":525},{"s":"S35","x":4.6e12,"y":511},{"s":"S35","x":4.8e12,"y":497},{"s":"S35","x":5e12,"y":484},{"s":"S35","x":5.2e12,"y":472},{"s":"S35","x":5.4e12,"y":461},{"s":"S35","x":5.6e12,"y":450},{"s":"S35","x":5.8e12,"y":439},{"s":"S35","x":6e12,"y":429}
]},
"encoding":{
"x":{"field":"x","type":"quantitative","scale":{"domain":[0,6000000000000],"nice":false,"zero":false},
"axis":{"values":[0,1000000000000,2000000000000,3000000000000,4000000000000,5000000000000,6000000000000],
"labelExpr":"datum.value == 0 ? '0.0E+00' : format(datum.value/1000000000000,'.1f') + 'E+12'",
"labelFontSize":36,"labelColor":"#000000","labelBaseline":"alphabetic","labelPadding":55,"labelFlush":false,"labelOverlap":false,"labelBound":false,
"tickSize":11,"tickColor":"#000000","tickWidth":1.5,"domainColor":"#000000","domainWidth":2,
"grid":true,"gridColor":{"condition":{"test":"datum.value == 6000000000000","value":"#999999"},"value":"#000000"},"gridWidth":1.5,"gridOpacity":1,
"title":"Fluence (n/cm2)","titleFontSize":38,"titleFontWeight":"bold","titleColor":"#000000","titleX":773.5,"titleY":126,"titleAlign":"center","titleBaseline":"alphabetic"}},
"y":{"field":"y","type":"quantitative","scale":{"domain":[0,3500],"nice":false},
"axis":{"values":[0,500,1000,1500,2000,2500,3000,3500],"format":"d",
"labelFontSize":36,"labelColor":"#000000","labelPadding":20,"labelFlush":false,"labelOverlap":false,"labelBound":false,
"tickSize":11,"tickColor":"#000000","tickWidth":1.5,"domainColor":"#000000","domainWidth":2,
"grid":true,"gridColor":{"condition":{"test":"datum.value == 3500","value":"#999999"},"value":"#000000"},"gridWidth":1.5,"gridOpacity":1,
"title":"CTR (%)","titleFontSize":38,"titleFontWeight":"bold","titleColor":"#000000","titleAngle":270,"titleX":-160,"titleY":403.5,"titleAlign":"center","titleBaseline":"alphabetic"}}
},
"layer":[
{"mark":{"type":"line","strokeWidth":1.75,"clip":false},
"encoding":{"stroke":{"field":"s","type":"nominal","legend":null,
"scale":{"domain":["S01","S02","S03","S04","S05","S06","S07","S08","S09","S10","S11","S12","S13","S14","S15","S16","S17","S20","S21","S22","S23","S24","S25","S26","S27","S28","S29","S30","S31","S32","S33","S34","S35"],
"range":["#969696","#993366","#9999ff","#0000ff","#ccffff","#00ccff","#800080","#e6e600","#993300","#003366","#ff00ff","#ff9900","#000080","#003300","#cc99ff","#ff99cc","#ffcc00","#0066cc","#808080","#ff0000","#808000","#00ffff","#800000","#333399","#008000","#000080","#ff8080","#00ff00","#660066","#0000ff","#ffff00","#008080","#ff00ff"]}}}},
{"transform":[{"filter":"datum.s != 'S20'"}],
"mark":{"type":"point","filled":true,"size":240,"strokeWidth":1.75,"opacity":1,"clip":false},
"encoding":{"stroke":{"field":"s","type":"nominal","legend":null},
"fill":{"field":"s","type":"nominal","legend":null,
"scale":{"domain":["S01","S02","S03","S04","S05","S06","S07","S08","S09","S10","S11","S12","S13","S14","S15","S16","S17","S20","S21","S22","S23","S24","S25","S26","S27","S28","S29","S30","S31","S32","S33","S34","S35"],
"range":["#969696","#993366","#9999ff","#ccffff","#ccffff","#00ccff","#800080","#e6e600","#993300","#003366","#ff00ff","#ff9900","#000080","#003300","#cc99ff","#ff99cc","#ffcc00","#0066cc","#ccccff","#ff0000","#808000","#00ffff","#800000","#333399","#008000","#000080","#ff8080","#00ff00","#660066","#0000ff","#ffff00","#008080","#ff00ff"]}},
"shape":{"field":"s","type":"nominal","legend":null,
"scale":{"domain":["S01","S02","S03","S04","S05","S06","S07","S08","S09","S10","S11","S12","S13","S14","S15","S16","S17","S20","S21","S22","S23","S24","S25","S26","S27","S28","S29","S30","S31","S32","S33","S34","S35"],
"range":["diamond","M-1,-1L1,1M1,-1L-1,1","triangle-up","circle","diamond","square","diamond","M-1,-1L1,1M1,-1L-1,1","square","M-1,0L1,0M0,-1L0,1","triangle-up","circle","square","M-1,-0.3L1,-0.3L1,0.3L-1,0.3Z","square","M-1,-1L1,1M1,-1L-1,1M0,-1L0,1","triangle-up","circle","diamond","M-1,0L1,0M0,-1L0,1","M-1,0L1,0M0,-1L0,1","triangle-up","M-1,-1L1,1M1,-1L-1,1","M-1,-1L1,1M1,-1L-1,1M0,-1L0,1","M-1,-1L1,1M1,-1L-1,1M0,-1L0,1","diamond","M-1,-0.3L1,-0.3L1,0.3L-1,0.3Z","M-1,-0.3L1,-0.3L1,0.3L-1,0.3Z","M-1,0L1,0M0,-1L0,1","M-1,-0.3L1,-0.3L1,0.3L-1,0.3Z","diamond","M-1,-0.3L1,-0.3L1,0.3L-1,0.3Z","square"]}}}}
]
}
